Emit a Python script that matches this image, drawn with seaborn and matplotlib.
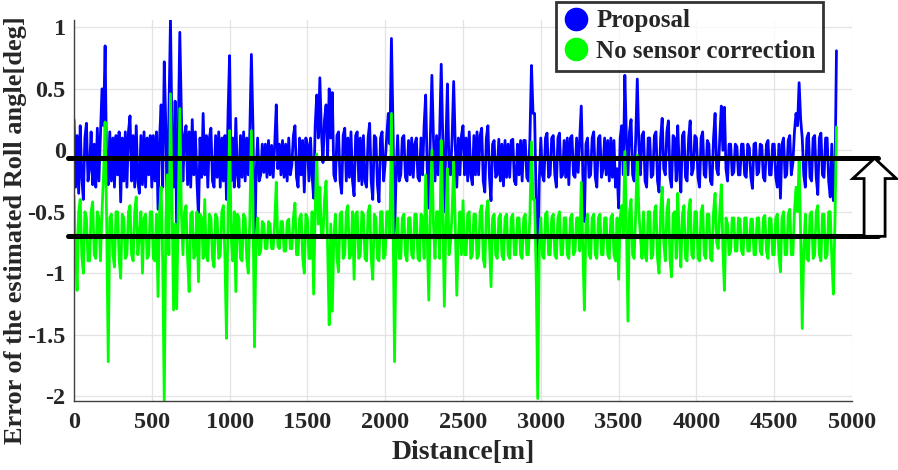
import numpy as np
import pandas as pd
import matplotlib
matplotlib.use("Agg")
import matplotlib.pyplot as plt
from matplotlib.lines import Line2D
from matplotlib.patches import FancyArrow
import seaborn as sns

# ── Data (10 m steps, one row = 100 m) ───────────────────────────────────────

distance = np.arange(0, 4901, 10)

proposal = [
    0.25, -0.30, 0.12, -0.35, 0.20, -0.22, -0.40, 0.10, 0.22, -0.25,
    -0.15, 0.15, -0.28, 0.05, -0.30, 0.18, -0.25, 0.12, 0.50, 0.20,
    0.85, -0.20, -0.28, 0.15, -0.25, 0.10, -0.30, 0.12, -0.20, 0.15,
    -0.42, 0.10, -0.25, 0.15, -0.30, 0.15, 0.28, -0.25, 0.12, -0.30,
    0.20, -0.25, -0.35, 0.12, -0.28, 0.15, -0.30, 0.10, -0.20, 0.12,
    -0.30, 0.12, -0.25, 0.15, -0.48, 0.10, 0.37, -0.30, 0.72, 0.20,
    -0.60, 0.30, 1.06, 0.10, -0.30, 0.40, -0.69, 0.15, 0.96, 0.30,
    -0.25, 0.12, 0.20, -0.28, 0.15, -0.30, 0.25, -0.20, 0.15, -0.25,
    -0.54, 0.10, -0.22, 0.30, -0.20, 0.12, -0.30, 0.10, 0.18, -0.25,
    -0.30, 0.12, -0.22, 0.15, -0.30, 0.10, -0.25, 0.12, -0.40, 0.30,
    0.77, -0.25, 0.10, -0.30, 0.26, -0.20, -0.30, 0.12, -0.22, 0.15,
    -0.25, 0.10, -0.20, 0.15, 0.78, 0.20, -0.96, -0.20, 0.10, -0.25,
    -0.20, 0.05, -0.18, 0.05, -0.22, 0.08, -0.20, 0.04, -0.22, 0.05,
    0.37, -0.15, 0.05, -0.20, 0.08, -0.22, 0.05, -0.25, 0.10, -0.20,
    -0.12, 0.12, 0.20, -0.22, -0.30, 0.10, -0.20, 0.08, -0.34, 0.10,
    0.05, -0.25, 0.10, -0.20, -0.39, 0.20, 0.45, 0.10, 0.59, 0.15,
    -0.10, 0.25, 0.37, -0.05, 0.50, 0.10, 0.47, -0.20, -0.25, 0.12,
    0.15, -0.25, -0.35, 0.12, 0.18, -0.25, 0.10, -0.22, 0.15, -0.25,
    -0.37, 0.12, 0.15, -0.25, 0.10, -0.28, 0.12, -0.25, -0.30, 0.10,
    0.22, -0.25, -0.40, 0.12, 0.10, -0.28, -0.42, 0.10, 0.15, -0.25,
    -0.10, 0.12, 0.30, 0.05, 0.91, 0.20, -0.70, -0.20, 0.12, -0.25,
    -0.20, 0.10, 0.12, -0.22, -0.25, 0.08, -0.20, 0.10, -0.22, 0.05,
    0.10, -0.22, -0.25, 0.10, -0.20, 0.20, 0.45, -0.15, -0.47, 0.10,
    0.61, 0.10, -0.25, 0.12, -0.20, 0.15, 0.70, 0.10, -0.50, 0.05,
    0.54, -0.15, -0.20, 0.10, 0.56, 0.05, -0.30, 0.10, -0.20, 0.12,
    0.20, -0.20, 0.10, -0.25, 0.15, -0.20, -0.28, 0.12, -0.20, 0.15,
    -0.20, 0.12, 0.18, -0.25, -0.34, 0.10, 0.20, -0.22, -0.41, 0.05,
    0.08, -0.22, -0.20, 0.09, -0.25, 0.05, -0.29, 0.08, -0.22, 0.05,
    -0.22, 0.08, 0.09, -0.25, -0.28, 0.05, -0.20, 0.08, -0.25, 0.08,
    0.08, -0.22, -0.25, 0.10, 0.69, 0.30, 0.30, -0.40, -1.15, -0.25,
    0.10, -0.20, -0.25, 0.10, 0.14, -0.22, -0.20, 0.10, 0.12, -0.20,
    -0.30, 0.10, 0.14, -0.22, -0.20, 0.08, -0.22, 0.10, -0.28, 0.10,
    0.12, -0.20, -0.22, 0.10, -0.18, 0.10, 0.36, -0.20, -0.58, 0.05,
    0.10, -0.22, -0.20, 0.10, 0.15, -0.22, -0.30, 0.10, 0.12, -0.22,
    -0.15, 0.10, -0.20, 0.08, -0.25, 0.10, -0.22, 0.08, -0.30, -0.15,
    -0.47, 0.10, 0.20, -0.20, 0.61, 0.10, -0.20, 0.15, 0.25, -0.20,
    -0.25, 0.10, 0.58, 0.05, -0.20, 0.12, 0.15, -0.25, -0.30, 0.10,
    0.10, -0.22, -0.20, 0.12, 0.15, -0.25, -0.34, 0.10, 0.26, -0.15,
    -0.20, 0.15, 0.24, -0.22, -0.30, 0.12, 0.10, -0.25, 0.20, -0.15,
    -0.34, 0.12, 0.15, -0.22, -0.25, 0.10, 0.24, -0.20, -0.15, 0.12,
    0.10, -0.22, -0.30, 0.10, 0.15, -0.20, -0.22, 0.08, 0.05, -0.25,
    -0.28, 0.10, 0.30, -0.15, -0.20, 0.10, 0.36, 0.00, 0.35, -0.15,
    -0.25, 0.05, 0.05, -0.20, -0.18, 0.05, 0.03, -0.20, -0.20, 0.05,
    0.05, -0.20, -0.22, 0.05, 0.02, -0.22, -0.31, 0.05, 0.06, -0.20,
    -0.18, 0.05, 0.04, -0.22, -0.25, 0.05, 0.08, -0.20, -0.20, 0.05,
    0.05, -0.22, -0.30, 0.05, -0.39, 0.05, 0.10, -0.22, -0.20, 0.08,
    0.12, -0.20, -0.10, 0.15, 0.30, 0.20, 0.55, 0.25, 0.10, -0.20,
    -0.30, 0.10, 0.14, -0.22, -0.25, 0.10, 0.12, -0.22, -0.36, 0.10,
    0.14, -0.20, -0.22, 0.10, 0.10, -0.25, -0.38, 0.05, -0.41, -0.30,
    0.81,
]

no_correction = [
    -0.37, -0.80, -1.14, -0.50, -0.40, -0.85, -1.00, -0.50, -0.55, -0.90,
    -0.90, -0.50, -0.42, -0.85, -0.88, -0.50, -0.55, -0.90, -0.50, -0.20,
    0.23, -0.60, -1.72, -0.55, -0.52, -0.85, -0.95, -0.50, -0.50, -0.88,
    -1.04, -0.52, -0.55, -0.88, -0.85, -0.50, -0.45, -0.85, -0.90, -0.50,
    -0.38, -0.85, -0.70, -0.50, -1.00, -0.55, -0.52, -0.88, -0.85, -0.50,
    -0.50, -0.88, -0.90, -0.52, -1.19, -0.50, -0.30, -0.90, -2.05, -0.60,
    -0.20, -0.85, 0.46, -0.40, -1.30, -0.60, -1.29, -0.50, 0.34, -0.50,
    -0.85, -0.50, -0.45, -0.88, -1.15, -0.52, -0.50, -0.88, -0.85, -0.50,
    -1.07, -0.52, -0.55, -0.88, -0.40, -0.85, -0.90, -0.52, -0.55, -0.88,
    -0.95, -0.52, -0.55, -0.88, -0.85, -0.50, -0.45, -0.88, -1.53, -0.50,
    0.16, -0.70, -0.90, -0.50, -1.15, -0.52, -0.55, -0.88, -0.90, -0.52,
    -0.55, -0.88, -1.00, -0.55, 0.16, -0.40, -1.60, -0.70, -0.55, -0.85,
    -0.82, -0.58, -0.60, -0.80, -0.80, -0.58, -0.60, -0.80, -0.80, -0.58,
    -0.26, -0.78, -0.80, -0.58, -0.58, -0.82, -0.82, -0.58, -0.56, -0.80,
    -0.80, -0.55, -0.43, -0.85, -0.85, -0.55, -0.52, -0.88, -1.00, -0.52,
    -0.55, -0.88, -0.88, -0.50, -1.17, -0.50, -0.03, -0.60, -0.30, -0.70,
    -0.70, -0.40, -0.25, -0.80, -1.42, -0.60, -1.31, -0.70, -0.52, -0.88,
    -0.99, -0.52, -0.50, -0.88, -0.85, -0.50, -0.45, -0.88, -0.85, -0.50,
    -1.05, -0.52, -0.50, -0.88, -0.85, -0.50, -0.52, -0.88, -0.90, -0.50,
    -0.45, -0.88, -1.05, -0.52, -0.55, -0.88, -0.90, -0.50, -0.50, -0.88,
    -0.85, -0.50, -0.50, -0.70, 0.30, -0.50, -1.72, -0.70, -0.55, -0.88,
    -0.88, -0.55, -0.52, -0.85, -0.90, -0.55, -0.55, -0.85, -0.88, -0.52,
    -0.52, -0.88, -0.90, -0.52, -0.55, -0.88, -0.20, -0.70, -1.22, -0.50,
    0.00, -0.60, -0.88, -0.50, -0.50, -0.88, 0.08, -0.50, -1.27, -0.60,
    -0.15, -0.85, -0.75, -0.50, -0.09, -0.60, -1.18, -0.70, -0.50, -0.85,
    -0.41, -0.85, -0.85, -0.52, -0.50, -0.88, -0.85, -0.52, -0.52, -0.88,
    -0.85, -0.50, -0.45, -0.88, -0.95, -0.50, -0.41, -0.75, -1.11, -0.55,
    -0.52, -0.85, -0.88, -0.55, -0.52, -0.85, -0.89, -0.55, -0.52, -0.85,
    -0.88, -0.55, -0.52, -0.85, -0.85, -0.55, -0.55, -0.85, -0.88, -0.55,
    -0.52, -0.85, -0.85, -0.52, 0.07, -0.40, -0.40, -1.00, -2.02, -0.80,
    -0.55, -0.85, -0.88, -0.52, -0.50, -0.85, -0.85, -0.55, -0.52, -0.85,
    -0.88, -0.55, -0.50, -0.85, -0.85, -0.55, -0.55, -0.85, -0.88, -0.55,
    -0.52, -0.85, -0.82, -0.55, -0.55, -0.82, -0.26, -0.80, -1.30, -0.60,
    -0.52, -0.85, -0.88, -0.55, -0.52, -0.85, -0.88, -0.55, -0.52, -0.85,
    -0.85, -0.55, -0.55, -0.85, -0.88, -0.55, -0.52, -0.85, -0.90, -0.55,
    -1.05, -0.55, -0.45, -0.70, -0.01, -0.60, -1.39, -0.50, -0.40, -0.85,
    -0.88, -0.50, -0.04, -0.50, -0.70, -0.88, -0.50, -0.85, -0.90, -0.50,
    -0.50, -0.88, -0.85, -0.50, -0.45, -0.88, -1.00, -0.50, -0.30, -0.75,
    -0.90, -0.50, -0.40, -0.88, -1.03, -0.52, -0.50, -0.88, -0.35, -0.70,
    -0.95, -0.52, -0.45, -0.88, -0.90, -0.50, -0.40, -0.85, -0.88, -0.50,
    -0.50, -0.88, -0.90, -0.50, -0.45, -0.85, -0.88, -0.52, -0.52, -0.88,
    -0.90, -0.50, -0.35, -0.75, -0.80, -0.50, -0.28, -0.80, -1.14, -0.55,
    -0.60, -0.85, -0.82, -0.55, -0.55, -0.82, -0.82, -0.55, -0.56, -0.82,
    -0.85, -0.55, -0.55, -0.82, -0.82, -0.56, -0.56, -0.85, -0.85, -0.55,
    -0.55, -0.82, -0.85, -0.55, -0.53, -0.82, -0.88, -0.55, -0.56, -0.85,
    -0.85, -0.55, -0.52, -0.85, -0.99, -0.55, -0.50, -0.85, -0.85, -0.52,
    -0.48, -0.85, -0.85, -0.50, -0.30, -0.50, -0.09, -0.70, -1.45, -0.80,
    -0.52, -0.88, -0.90, -0.52, -0.50, -0.88, -0.85, -0.50, -0.45, -0.85,
    -0.90, -0.52, -0.52, -0.88, -0.85, -0.50, -0.50, -0.88, -1.17, -0.60,
    0.19,
]

# mean levels marked with the thick black lines
level_proposal = -0.065
level_no_correction = -0.70

x_ticks = [0, 500, 1000, 1500, 2000, 2500, 3000, 3500, 4000, 4500, 5000]
y_ticks = [-2, -1.5, -1, -0.5, 0, 0.5, 1]
y_tick_labels = ["-2", "-1.5", "-1", "-0.5", "0", "0.5", "1"]

# ── Plot ─────────────────────────────────────────────────────────────────────

sns.set_style("white")
plt.rcParams["font.family"] = ["Liberation Serif", "DejaVu Serif"]
plt.rcParams["font.weight"] = "bold"
plt.rcParams["axes.unicode_minus"] = False

df = pd.DataFrame({"distance": distance,
                   "proposal": proposal,
                   "no_correction": no_correction})

fig = plt.figure(figsize=(8.98, 4.70), dpi=100)
ax = fig.add_axes([0.0824, 0.1468, 0.8664, 0.8106])

sns.lineplot(data=df, x="distance", y="proposal", color="#0000ff",
             linewidth=2.0, ax=ax, legend=False, estimator=None)
sns.lineplot(data=df, x="distance", y="no_correction", color="#00ff00",
             linewidth=2.0, ax=ax, legend=False, estimator=None)

for lvl in (level_proposal, level_no_correction):
    ax.plot([-40, 5170], [lvl, lvl], color="black", lw=3.6,
            clip_on=False, zorder=5)

arrow = FancyArrow(5145, level_no_correction, 0,
                   level_proposal - level_no_correction,
                   width=135, head_width=280, head_length=0.165,
                   length_includes_head=True, fc="white", ec="black",
                   lw=2.0, clip_on=False, zorder=6)
ax.add_patch(arrow)

ax.set_xlim(0, 5000)
ax.set_ylim(-2.04, 1.06)
ax.set_xticks(x_ticks)
ax.set_yticks(y_ticks)
ax.set_yticklabels(y_tick_labels)
ax.grid(True, color="#e3e3e3", lw=0.9)
ax.set_axisbelow(True)
for side in ("top", "right"):
    ax.spines[side].set_visible(False)
for side in ("left", "bottom"):
    ax.spines[side].set_color("#404040")
    ax.spines[side].set_linewidth(1.0)
ax.tick_params(direction="in", length=5, width=1.0, color="#404040",
               labelsize=17.5, labelcolor="#262626", pad=8)
ax.tick_params(axis="y", pad=6)
for lab in ax.get_xticklabels() + ax.get_yticklabels():
    lab.set_fontweight("bold")

ax.set_xlabel("Distance[m]", fontsize=20, fontweight="bold", labelpad=5)
ax.set_ylabel("Error of the estimated Roll angle[deg]", fontsize=19,
              fontweight="bold")
ax.yaxis.set_label_coords(-0.060, 0.449)

handles = [
    Line2D([], [], marker="o", ls="none", color="#0000ff", markersize=16),
    Line2D([], [], marker="o", ls="none", color="#00ff00", markersize=16),
]
leg = ax.legend(handles, ["Proposal", "No sensor correction"],
                loc="upper right", bbox_to_anchor=(823 / 898, 1 - 2 / 470),
                bbox_transform=fig.transFigure, fontsize=18,
                frameon=True, fancybox=False, handletextpad=0.3,
                handlelength=1.0, borderpad=0.3, labelspacing=0.3,
                borderaxespad=0)
leg.get_frame().set_edgecolor("black")
leg.get_frame().set_linewidth(2.0)
leg.set_zorder(10)
for t in leg.get_texts():
    t.set_fontweight("bold")

fig.savefig("out.png", dpi=100)
